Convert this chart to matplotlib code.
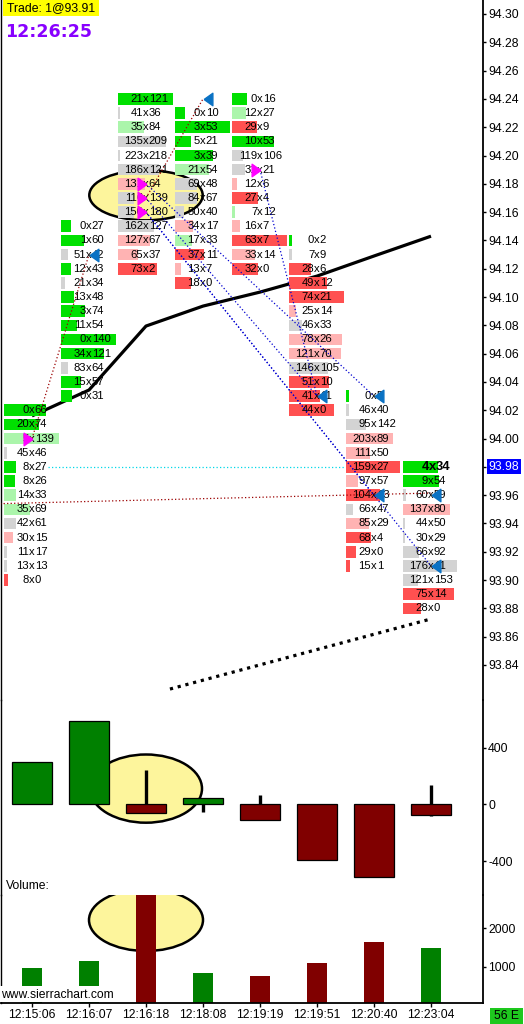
import matplotlib
matplotlib.use('Agg')
import matplotlib.pyplot as plt
from matplotlib.patches import Ellipse, Rectangle

plt.rcParams['font.family'] = ['Liberation Sans', 'DejaVu Sans']
plt.rcParams['axes.unicode_minus'] = False

# ---------------- data ----------------
times = ['12:15:06', '12:16:07', '12:16:18', '12:18:08', '12:19:19', '12:19:51', '12:20:40', '12:23:04']

# footprint columns: highest price, bid volumes, ask volumes, bar length (% of column), colour class
col_top = [94.02, 94.15, 94.24, 94.23, 94.24, 94.14, 94.03, 93.98]

bid_0 = [0, 20, 5, 45, 8, 8, 14, 35, 42, 30, 11, 13, 8]
ask_0 = [66, 74, 139, 46, 27, 26, 33, 69, 61, 15, 17, 13, 0]
len_0 = [76, 64, 100, 5, 21, 20, 22, 47, 22, 16, 5, 5, 7]
clr_0 = 'GGgnGGggnpnnR'

bid_1 = [0, 1, 51, 12, 21, 13, 3, 11, 0, 34, 83, 15, 0]
ask_1 = [27, 60, 42, 43, 34, 48, 74, 54, 140, 121, 64, 57, 31]
len_1 = [18, 41, 12, 19, 7, 24, 43, 29, 100, 78, 12, 36, 20]
clr_1 = 'GGnGnGGGGGnGG'

bid_2 = [21, 41, 35, 135, 223, 186, 131, 116, 150, 162, 127, 65, 73]
ask_2 = [121, 36, 84, 209, 218, 121, 64, 139, 180, 127, 67, 37, 2]
len_2 = [100, 4, 47, 88, 4, 75, 50, 29, 29, 65, 58, 36, 71]
clr_2 = 'GngnnnpnnnppR'

bid_3 = [0, 3, 5, 3, 21, 69, 84, 50, 34, 17, 37, 13, 18]
ask_3 = [10, 53, 21, 39, 54, 48, 67, 40, 17, 33, 11, 7, 0]
len_3 = [18, 100, 30, 70, 62, 40, 40, 16, 32, 31, 52, 11, 30]
clr_3 = 'GGGGgnnnpgRpR'

bid_4 = [0, 12, 29, 10, 119, 31, 12, 27, 7, 16, 63, 33, 32]
ask_4 = [16, 27, 9, 53, 106, 21, 6, 4, 12, 7, 7, 14, 0]
len_4 = [27, 25, 45, 76, 20, 24, 9, 48, 6, 15, 100, 42, 48]
clr_4 = 'GgRGnnpRgpRpR'

bid_5 = [0, 7, 28, 49, 74, 25, 46, 78, 121, 146, 51, 41, 44]
ask_5 = [2, 9, 6, 12, 21, 14, 33, 26, 70, 105, 10, 11, 0]
len_5 = [5, 5, 40, 69, 100, 12, 23, 96, 95, 71, 72, 56, 81]
clr_5 = 'GnRRRpnppnRRR'

bid_6 = [0, 46, 95, 203, 111, 159, 97, 104, 66, 85, 68, 29, 15]
ask_6 = [5, 40, 142, 89, 50, 27, 57, 13, 47, 29, 4, 0, 1]
len_6 = [5, 5, 37, 85, 44, 98, 22, 62, 12, 42, 45, 18, 8]
clr_6 = 'GnnppRpRnpRRR'

bid_7 = [4, 9, 60, 137, 44, 30, 66, 176, 121, 75, 28]
ask_7 = [34, 54, 59, 80, 50, 29, 92, 11, 153, 14, 0]
len_7 = [64, 66, 5, 85, 4, 4, 30, 98, 28, 93, 33]
clr_7 = 'GGnpnnnnnRR'

bids = [bid_0, bid_1, bid_2, bid_3, bid_4, bid_5, bid_6, bid_7]
asks = [ask_0, ask_1, ask_2, ask_3, ask_4, ask_5, ask_6, ask_7]
lens = [len_0, len_1, len_2, len_3, len_4, len_5, len_6, len_7]
clrs = [clr_0, clr_1, clr_2, clr_3, clr_4, clr_5, clr_6, clr_7]

# moving-average style study (per bar) and lower dotted study line
ma_values = [94.016, 94.0343, 94.0795, 94.0936, 94.1035, 94.1148, 94.129, 94.143]
lower_pos = [2.42, 6.95]
lower_values = [93.823, 93.872]

# trade markers
sell_marks = [(1, 94.13), (3, 94.24), (5, 94.03), (6, 94.03), (6, 93.96), (7, 93.96), (7, 93.91)]
buy_marks = [(0, 94.00), (2, 94.18), (2, 94.17), (2, 94.16), (4, 94.19)]
# trade connection lines: (x0, p0, x1, p1, kind)
trade_lines = [
    (0, 94.00, 1, 94.13, 'win'),
    (2, 94.17, 3, 94.24, 'win'),
    (-0.56, 93.954, 7, 93.9615, 'win'),
    (2, 94.18, 6, 94.03, 'loss'),
    (2, 94.17, 5, 94.03, 'loss'),
    (2, 94.16, 7, 93.91, 'loss'),
    (2, 94.16, 6, 93.96, 'loss'),
    (4, 94.19, 5, 94.03, 'loss'),
    (0.28, 93.98, 5.49, 93.98, 'level'),
]

price_ticks = [93.84 + 0.02 * i for i in range(24)]
last_price = 93.98

# delta bars
delta_close = [300, 590, -59, 47, -109, -392, -515, -73]
delta_high = [300, 590, 240, 47, 64, 0, 0, 134]
delta_low = [0, 0, -59, -55, -109, -392, -515, -83]
delta_ticks = [400, 0, -400]

# volume
volume = [966, 1149, 3200, 835, 757, 1097, 1657, 1492]
vol_dir = 'GGRGRRRG'
vol_ticks = [2000, 1000]

# ---------------- layout ----------------
W, H, DPI = 524, 1024, 100
BAR_PX, FIRST_PX = 57.0, 32.0
XL_PX, XR_PX = 0.8, 483.0
xmin = (XL_PX - FIRST_PX) / BAR_PX
xmax = (XR_PX - FIRST_PX) / BAR_PX
PX = 1.0 / BAR_PX          # one pixel in bar units
ROW_PX = 14.152            # pixels per 0.01

fig = plt.figure(figsize=(W / DPI, H / DPI), dpi=DPI)
fig.patch.set_facecolor('white')


def axes_px(y0, y1):
    return fig.add_axes([XL_PX / W, 1 - y1 / H, (XR_PX - XL_PX) / W, (y1 - y0) / H])


ax = axes_px(0, 700)
axd = axes_px(700, 894.6)
axv = axes_px(894.6, 1003)

price_top = 94.30 + 14 / ROW_PX * 0.01
price_bot = 94.30 - (700 - 14) / ROW_PX * 0.01
ax.set_ylim(price_bot, price_top)
axd.set_ylim(-(894.6 - 804.3) / 0.14175, (804.3 - 700) / 0.14175)
axv.set_ylim((1004.8 - 1003) / 0.0382, (1004.8 - 894.6) / 0.0382)

for a in (ax, axd, axv):
    a.set_xlim(xmin, xmax)
    a.set_facecolor('none')
    for s in ('top', 'bottom'):
        a.spines[s].set_visible(False)
    a.spines['left'].set_linewidth(1.0)
    a.spines['right'].set_linewidth(1.3)
    a.yaxis.tick_right()
    a.tick_params(axis='y', direction='out', length=2.5, width=1, pad=1.2, labelsize=8.8, colors='black')
    a.tick_params(axis='x', bottom=False, labelbottom=False)
axv.spines['bottom'].set_visible(True)
axv.spines['bottom'].set_linewidth(1.3)
axv.set_xticks(range(len(times)))
axv.set_xticklabels(times)
axv.tick_params(axis='x', bottom=True, labelbottom=True, direction='out', length=3, width=1, pad=1.5, labelsize=8.7)

ax.set_yticks(price_ticks)
ax.set_yticklabels(['' if abs(p - last_price) < 1e-6 else '%.2f' % p for p in price_ticks])
axd.set_yticks(delta_ticks)
axd.set_yticklabels([str(v) for v in delta_ticks])
axv.set_yticks(vol_ticks)
axv.set_yticklabels([str(v) for v in vol_ticks])

ax.annotate('%.2f' % last_price, xy=(1, last_price), xycoords=('axes fraction', 'data'),
            xytext=(4.2, 0), textcoords='offset points', ha='left', va='center', fontsize=8.8,
            color='white', annotation_clip=False,
            bbox=dict(boxstyle='square,pad=0.12', fc='#0000ff', ec='none'))

# ---------------- footprint ----------------
palette = {'G': '#00e000', 'g': '#abf5ab', 'n': '#d3d3d3', 'p': '#ffb3b3', 'R': '#ff5050'}
row_h = 0.0082
bar_start = -28 * PX
bar_full = 55 * PX
half_x = 2.8 * PX

for c in range(len(col_top)):
    for r, (b, a_, ln, cc) in enumerate(zip(bids[c], asks[c], lens[c], clrs[c])):
        p = col_top[c] - 0.01 * r
        ax.add_patch(Rectangle((c + bar_start, p - row_h / 2), bar_full * ln / 100.0, row_h,
                               fc=palette[cc], ec='none', zorder=2))
        bold = (c == len(col_top) - 1 and r == 0)
        kw = dict(va='center', fontsize=9.4 if bold else 8.1,
                  fontweight='bold' if bold else 'normal', color='black', zorder=3)
        sep = c + (1.5 * PX if bold else 0)
        hx = half_x * (1.15 if bold else 1)
        ax.text(sep - hx, p, str(b), ha='right', **kw)
        ax.text(sep, p, 'x', ha='center', **kw)
        ax.text(sep + hx, p, str(a_), ha='left', **kw)

# yellow highlight ellipse
ax.add_patch(Ellipse((2.0, 94.30 - (195.2 - 14) / ROW_PX * 0.01), 113.4 * PX, 50.2 / ROW_PX * 0.01,
                     fc='#fdf59c', ec='black', lw=1.8, zorder=1))

# studies
ax.plot(range(len(ma_values)), ma_values, color='black', lw=2.3, zorder=1.5, solid_capstyle='butt')
ax.plot(lower_pos, lower_values, color='black', lw=2.3, linestyle=(0, (1, 1.5)), zorder=1.5)

# trade lines
line_col = {'win': '#9b0000', 'loss': '#0000d0', 'level': '#00d8e8'}
for x0, p0, x1, p1, kind in trade_lines:
    ax.plot([x0, x1], [p0, p1], color=line_col[kind], lw=0.9, linestyle=(0, (1, 1.8)), zorder=4)

tri_left = [(-0.7, 0), (0.7, 1), (0.7, -1), (-0.7, 0)]
tri_right = [(0.7, 0), (-0.7, 1), (-0.7, -1), (0.7, 0)]
ax.plot([x + 5 * PX for x, _ in sell_marks], [p for _, p in sell_marks], linestyle='none',
        marker=tri_left, ms=9, color='#0a72c4', zorder=5)
ax.plot([x - 4 * PX for x, _ in buy_marks], [p for _, p in buy_marks], linestyle='none',
        marker=tri_right, ms=9, color='#ff00ff', zorder=5)

# ---------------- delta panel ----------------
axd.add_patch(Ellipse((2.0, (804.3 - 788.6) / 0.14175), 112 * PX, 68.2 / 0.14175,
                      fc='#fdf59c', ec='black', lw=1.8, zorder=1))
for i, (cl, hi, lo) in enumerate(zip(delta_close, delta_high, delta_low)):
    col = '#008000' if cl >= 0 else '#800000'
    axd.plot([i, i], [lo, hi], color='black', lw=2.4, zorder=1.5, solid_capstyle='butt')
    axd.add_patch(Rectangle((i - 19.7 * PX, min(0, cl)), 39.4 * PX, abs(cl), fc=col, ec='black',
                            lw=0.9, zorder=2))

axd.text(xmin + 5.5 * PX, -(886 - 804.3) / 0.14175, 'Volume:', fontsize=8.7,
         ha='left', va='center', color='black', zorder=3)

# ---------------- volume panel ----------------
axv.add_patch(Ellipse((2.0, (1004.8 - 920) / 0.0382), 114 * PX, 62 / 0.0382,
                      fc='#fdf59c', ec='black', lw=1.8, zorder=1))
vcol = {'G': '#008000', 'R': '#800000'}
axv.bar(range(len(volume)), volume, width=20 * PX, color=[vcol[d] for d in vol_dir], zorder=2)

# ---------------- figure texts ----------------
fig.patches.append(Rectangle((3 / W, 1 - 16 / H), 96 / W, 16 / H, transform=fig.transFigure,
                             fc='#ffff00', ec='none', zorder=2))
fig.text(7 / W, 1 - 8.5 / H, 'Trade: 1@93.91', fontsize=8.8, ha='left', va='center', zorder=3)
fig.text(5 / W, 1 - 32 / H, '12:26:25', fontsize=12.5, fontweight='bold', family='DejaVu Sans',
         color='#8800ff', ha='left', va='center', zorder=3)

fig.patches.append(Rectangle((0, 1 - 1002 / H), 121 / W, 16 / H, transform=fig.transFigure,
                             fc='white', ec='none', zorder=2))
fig.text(1.5 / W, 1 - 994.5 / H, 'www.sierrachart.com', fontsize=8.7, ha='left', va='center', zorder=3)

fig.patches.append(Rectangle((490 / W, 0), 33 / W, 16 / H, transform=fig.transFigure,
                             fc='#1ec81e', ec='none', zorder=2))
fig.text(506.5 / W, 8 / H, '56 E', fontsize=8.7, ha='center', va='center', zorder=3)

fig.savefig('out.png', dpi=DPI)
